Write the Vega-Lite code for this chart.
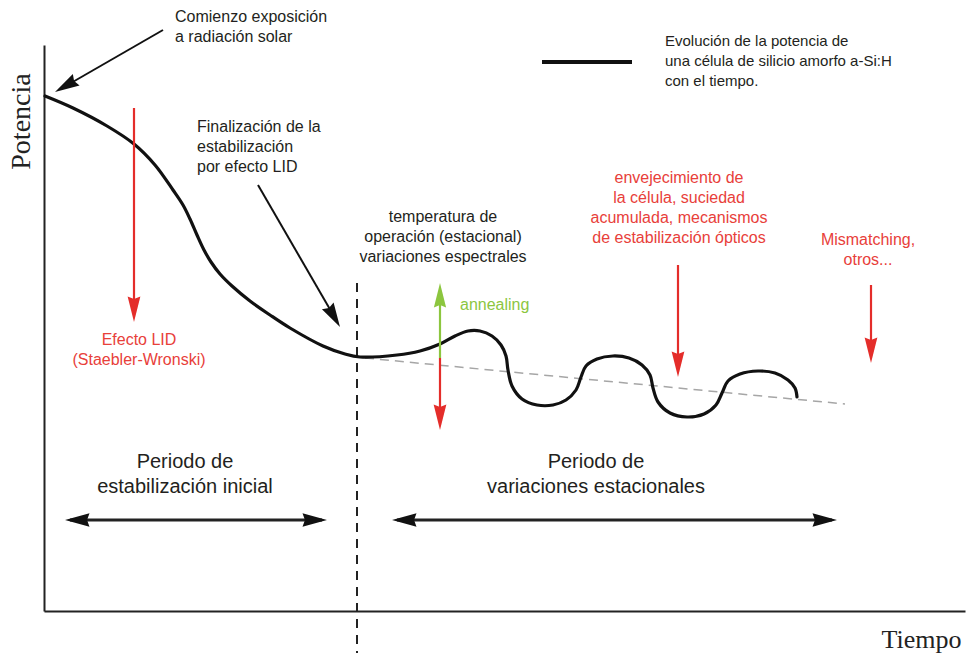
{
  "$schema": "https://vega.github.io/schema/vega-lite/v6.json",
  "width": 921,
  "height": 566,
  "autosize": {"type": "none"},
  "padding": {"left": 44, "top": 45, "right": 7, "bottom": 42},
  "background": "white",
  "config": {"view": {"stroke": null}, "text": {"font": "Liberation Sans"}},
  "datasets": {
    "curve": [
      {"i": 0, "t": 1, "p": 515}, {"i": 1, "t": 29, "p": 503}, {"i": 2, "t": 63, "p": 485}, {"i": 3, "t": 90, "p": 467},
      {"i": 4, "t": 111, "p": 446}, {"i": 5, "t": 129, "p": 421}, {"i": 6, "t": 139, "p": 406}, {"i": 7, "t": 146, "p": 392},
      {"i": 8, "t": 153, "p": 376}, {"i": 9, "t": 160, "p": 361}, {"i": 10, "t": 167, "p": 349}, {"i": 11, "t": 176, "p": 337},
      {"i": 12, "t": 188, "p": 325}, {"i": 13, "t": 206, "p": 310}, {"i": 14, "t": 226, "p": 296}, {"i": 15, "t": 246, "p": 283},
      {"i": 16, "t": 279, "p": 265}, {"i": 17, "t": 301, "p": 257}, {"i": 18, "t": 316, "p": 254}, {"i": 19, "t": 353, "p": 256},
      {"i": 20, "t": 376, "p": 260}, {"i": 21, "t": 396, "p": 267}, {"i": 22, "t": 411, "p": 275}, {"i": 23, "t": 424, "p": 280},
      {"i": 24, "t": 436, "p": 280}, {"i": 25, "t": 448, "p": 275}, {"i": 26, "t": 457, "p": 266}, {"i": 27, "t": 462, "p": 255},
      {"i": 28, "t": 464, "p": 241}, {"i": 29, "t": 468, "p": 225}, {"i": 30, "t": 478, "p": 212}, {"i": 31, "t": 493, "p": 206},
      {"i": 32, "t": 509, "p": 206}, {"i": 33, "t": 522, "p": 211}, {"i": 34, "t": 532, "p": 221}, {"i": 35, "t": 537, "p": 234},
      {"i": 36, "t": 542, "p": 245}, {"i": 37, "t": 553, "p": 252}, {"i": 38, "t": 569, "p": 255}, {"i": 39, "t": 585, "p": 253},
      {"i": 40, "t": 598, "p": 246}, {"i": 41, "t": 606, "p": 236}, {"i": 42, "t": 609, "p": 223}, {"i": 43, "t": 614, "p": 209},
      {"i": 44, "t": 626, "p": 198}, {"i": 45, "t": 643, "p": 194}, {"i": 46, "t": 660, "p": 197}, {"i": 47, "t": 672, "p": 206},
      {"i": 48, "t": 678, "p": 218}, {"i": 49, "t": 684, "p": 230}, {"i": 50, "t": 696, "p": 237}, {"i": 51, "t": 714, "p": 240},
      {"i": 52, "t": 731, "p": 238}, {"i": 53, "t": 744, "p": 231}, {"i": 54, "t": 751, "p": 223}, {"i": 55, "t": 753, "p": 214}
    ],
    "trend": [{"t": 321, "p": 253}, {"t": 801, "p": 207}],
    "vline": [{"t": 313, "p": 328, "p2": -42}],
    "thinShafts": [
      {"t": 119, "p": 581, "t2": 20, "p2": 524},
      {"t": 214, "p": 426, "t2": 291, "p2": 293}
    ],
    "thickShafts": [
      {"t": 26, "p": 91, "t2": 278, "p2": 91},
      {"t": 353, "p": 91, "t2": 788, "p2": 91}
    ],
    "legendLine": [{"t": 498, "p": 549, "t2": 588, "p2": 549}],
    "redShafts": [
      {"t": 90, "p": 503, "t2": 90, "p2": 301},
      {"t": 396, "p": 253, "t2": 396, "p2": 191},
      {"t": 634, "p": 346, "t2": 634, "p2": 244},
      {"t": 827, "p": 326, "t2": 827, "p2": 258}
    ],
    "greenShaft": [{"t": 396, "p": 253, "t2": 396, "p2": 316}],
    "blackHeads": [
      {"t": 11, "p": 519, "ang": 240},
      {"t": 296, "p": 284, "ang": 150},
      {"t": 21, "p": 91, "ang": 270},
      {"t": 283, "p": 91, "ang": 90},
      {"t": 348, "p": 91, "ang": 270},
      {"t": 793, "p": 91, "ang": 90}
    ],
    "redHeads": [
      {"t": 90, "p": 289, "ang": 180},
      {"t": 396, "p": 181, "ang": 180},
      {"t": 634, "p": 234, "ang": 180},
      {"t": 827, "p": 248, "ang": 180}
    ],
    "greenHeads": [{"t": 396, "p": 328, "ang": 0}],
    "blackLeft": [
      {"t": 131, "p": 589, "txt": "Comienzo exposición\na radiación solar"},
      {"t": 153, "p": 479, "txt": "Finalización de la\nestabilización\npor efecto LID"}
    ],
    "legendText": [{"t": 621, "p": 565, "txt": "Evolución de la potencia de\nuna célula de silicio amorfo a-Si:H\ncon el tiempo."}],
    "blackCenter": [{"t": 399, "p": 389, "txt": "temperatura de\noperación (estacional)\nvariaciones espectrales"}],
    "redCenter": [
      {"t": 635, "p": 428, "txt": "envejecimiento de\nla célula, suciedad\nacumulada, mecanismos\nde estabilización ópticos"},
      {"t": 824, "p": 366, "txt": "Mismatching,\notros..."},
      {"t": 95, "p": 266, "txt": "Efecto LID\n(Staebler-Wronski)"}
    ],
    "greenLeft": [{"t": 416, "p": 301, "txt": "annealing"}],
    "periods": [
      {"t": 141, "p": 143, "txt": "Periodo de\nestabilización inicial"},
      {"t": 552, "p": 143, "txt": "Periodo de\nvariaciones estacionales"}
    ]
  },
  "encoding": {
    "x": {
      "field": "t", "type": "quantitative",
      "scale": {"domain": [0, 921], "nice": false, "zero": false},
      "axis": {
        "title": "Tiempo", "domain": true, "domainColor": "#222", "domainWidth": 2,
        "ticks": false, "labels": false, "grid": false,
        "titleFont": "Liberation Serif", "titleFontSize": 26, "titleFontWeight": "normal", "titleColor": "#222",
        "titleX": 877, "titleY": 36, "titleAlign": "center", "titleBaseline": "alphabetic"
      }
    },
    "y": {
      "field": "p", "type": "quantitative",
      "scale": {"domain": [0, 566], "nice": false, "zero": false},
      "axis": {
        "title": "Potencia", "domain": true, "domainColor": "#222", "domainWidth": 2,
        "ticks": false, "labels": false, "grid": false,
        "titleFont": "Liberation Serif", "titleFontSize": 28, "titleFontWeight": "normal", "titleColor": "#222",
        "titleX": -23, "titleY": 76, "titleAngle": 270, "titleAlign": "center", "titleBaseline": "middle"
      }
    }
  },
  "layer": [
    {"data": {"name": "trend"}, "mark": {"type": "line", "color": "#a6a6a6", "strokeWidth": 1.5, "strokeDash": [9, 6]}, "encoding": {}},
    {"data": {"name": "vline"}, "mark": {"type": "rule", "color": "#222", "strokeWidth": 2, "strokeDash": [9, 7]}, "encoding": {"y2": {"field": "p2"}}},
    {"data": {"name": "curve"}, "mark": {"type": "line", "color": "#111", "strokeWidth": 3.2, "interpolate": "catmull-rom", "strokeCap": "round"}, "encoding": {"order": {"field": "i", "type": "quantitative"}}},
    {"data": {"name": "thinShafts"}, "mark": {"type": "rule", "color": "#111", "strokeWidth": 2}, "encoding": {"x2": {"field": "t2"}, "y2": {"field": "p2"}}},
    {"data": {"name": "thickShafts"}, "mark": {"type": "rule", "color": "#222", "strokeWidth": 3.2}, "encoding": {"x2": {"field": "t2"}, "y2": {"field": "p2"}}},
    {"data": {"name": "legendLine"}, "mark": {"type": "rule", "color": "#111", "strokeWidth": 4}, "encoding": {"x2": {"field": "t2"}, "y2": {"field": "p2"}}},
    {"data": {"name": "redShafts"}, "mark": {"type": "rule", "color": "#e42d2a", "strokeWidth": 2.2}, "encoding": {"x2": {"field": "t2"}, "y2": {"field": "p2"}}},
    {"data": {"name": "greenShaft"}, "mark": {"type": "rule", "color": "#8cc63f", "strokeWidth": 2.2}, "encoding": {"x2": {"field": "t2"}, "y2": {"field": "p2"}}},
    {"data": {"name": "blackHeads"}, "mark": {"type": "point", "shape": "M0,0L-0.55,2L0,1.8L0.55,2Z", "filled": true, "opacity": 1, "color": "#111", "size": 600, "strokeWidth": 0}, "encoding": {"angle": {"field": "ang", "type": "quantitative", "scale": null}}},
    {"data": {"name": "redHeads"}, "mark": {"type": "point", "shape": "M0,0L-0.5,2L0,1.8L0.5,2Z", "filled": true, "opacity": 1, "color": "#e42d2a", "size": 650, "strokeWidth": 0}, "encoding": {"angle": {"field": "ang", "type": "quantitative", "scale": null}}},
    {"data": {"name": "greenHeads"}, "mark": {"type": "point", "shape": "M0,0L-0.5,2L0,1.8L0.5,2Z", "filled": true, "opacity": 1, "color": "#8cc63f", "size": 600, "strokeWidth": 0}, "encoding": {"angle": {"field": "ang", "type": "quantitative", "scale": null}}},
    {"data": {"name": "blackLeft"}, "mark": {"type": "text", "align": "left", "baseline": "alphabetic", "fontSize": 16, "lineHeight": 20, "lineBreak": "\n", "color": "#231f20"}, "encoding": {"text": {"field": "txt"}}},
    {"data": {"name": "legendText"}, "mark": {"type": "text", "align": "left", "baseline": "alphabetic", "fontSize": 15, "lineHeight": 20, "lineBreak": "\n", "color": "#231f20"}, "encoding": {"text": {"field": "txt"}}},
    {"data": {"name": "blackCenter"}, "mark": {"type": "text", "align": "center", "baseline": "alphabetic", "fontSize": 16, "lineHeight": 20, "lineBreak": "\n", "color": "#231f20"}, "encoding": {"text": {"field": "txt"}}},
    {"data": {"name": "redCenter"}, "mark": {"type": "text", "align": "center", "baseline": "alphabetic", "fontSize": 16, "lineHeight": 20, "lineBreak": "\n", "color": "#e8403a"}, "encoding": {"text": {"field": "txt"}}},
    {"data": {"name": "greenLeft"}, "mark": {"type": "text", "align": "left", "baseline": "alphabetic", "fontSize": 16, "color": "#8cc63f"}, "encoding": {"text": {"field": "txt"}}},
    {"data": {"name": "periods"}, "mark": {"type": "text", "align": "center", "baseline": "alphabetic", "fontSize": 20, "lineHeight": 25, "lineBreak": "\n", "color": "#231f20"}, "encoding": {"text": {"field": "txt"}}}
  ]
}
